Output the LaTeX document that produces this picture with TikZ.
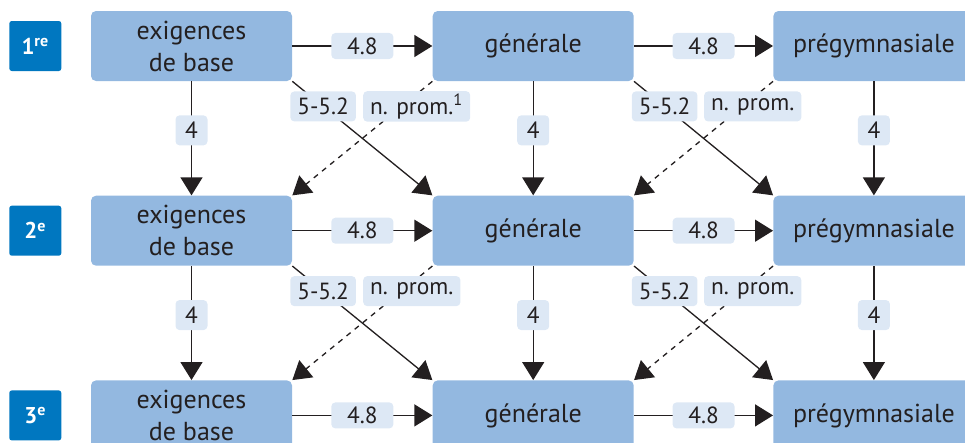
\documentclass[tikz,border=0pt]{standalone}
\usepackage{fontspec}
\setmainfont{PT Sans}
\usetikzlibrary{positioning, arrows.meta}
\definecolor{boxblue}{HTML}{93B8E0}
\definecolor{lblblue}{HTML}{DDE8F5}
\definecolor{yearblue}{HTML}{0077C0}
\definecolor{txt}{HTML}{231F20}
\tikzstyle{level} = [rectangle, rounded corners=0.1cm, 
minimum width=4.02cm, 
minimum height=1.4cm,
text centered, 
align=center,
text=txt,
font=\fontsize{14.8}{18.2}\selectfont,
fill=boxblue]
\tikzstyle{year} = [rectangle, rounded corners=0.05cm, 
minimum width=1.04cm, 
minimum height=1cm,
text=white,
font=\bfseries\fontsize{13}{15}\selectfont,
fill=yearblue]
\tikzstyle{lbl} = [rectangle, rounded corners=0.08cm, 
minimum height=0.6cm,
inner xsep=0.14cm, inner ysep=0.05cm,
text=txt,
font=\fontsize{13.3}{15}\selectfont,
fill=lblblue]
\tikzstyle{hlbl} = [lbl, minimum width=1.24cm, minimum height=0.52cm]
\tikzstyle{vlbl} = [lbl, minimum width=0.64cm]
\tikzstyle{arrow} = [line width=0.75pt, draw=txt, -{Triangle[length=0.36cm, width=0.44cm]}]
\tikzstyle{nprom} = [arrow, dashed]

\begin{document}
\begin{tikzpicture}[node distance=2.28cm]
        \useasboundingbox (0,0) rectangle (19.3,-8.86);
        
        \node (b1) [level] at (3.83,-0.92) {exigences\\de base};
        \node (g1) [level, right=2.8cm of b1] {générale};
        \node (p1) [level, right=2.78cm of g1] {prégymnasiale};
        
        \node (b2) [level, below=of b1] {exigences\\de base};
        \node (g2) [level, below=of g1] {générale};
        \node (p2) [level, below=of p1] {prégymnasiale};
        
        \node (b3) [level, below=of b2] {exigences\\de base};
        \node (g3) [level, below=of g2] {générale};
        \node (p3) [level, below=of p2] {prégymnasiale};
        
        \node (y1) [year, left=0.58cm of b1] {1\textsuperscript{re}};
        \node (y2) [year, left=0.58cm of b2] {2\textsuperscript{e}};
        \node (y3) [year, left=0.58cm of b3] {3\textsuperscript{e}};
        
        \foreach \r in {1,2,3} {
          \draw [arrow] (b\r) -- node[hlbl] {4.8} (g\r);
          \draw [arrow] (g\r) -- node[hlbl] {4.8} (p\r);
        }
        
        \foreach \r/\s/\note in {1/2/\textsuperscript{1}, 2/3/{}} {
          \foreach \c in {b,g,p}
            \draw [arrow] (\c\r) -- node[vlbl, pos=.43] {4} (\c\s);
          \draw [arrow] (b\r.south east) -- node[lbl, pos=.22] {5-5.2} (g\s.north west);
          \draw [arrow] (g\r.south east) -- node[lbl, pos=.22] {5-5.2} (p\s.north west);
          \draw [nprom] (g\r.south west) -- node[lbl, pos=.22, anchor=west, xshift=-0.78cm] {n. prom.\note} (b\s.north east);
          \draw [nprom] (p\r.south west) -- node[lbl, pos=.22, anchor=west, xshift=-0.78cm] {n. prom.} (g\s.north east);
        }
        
        \end{tikzpicture}
\end{document}
